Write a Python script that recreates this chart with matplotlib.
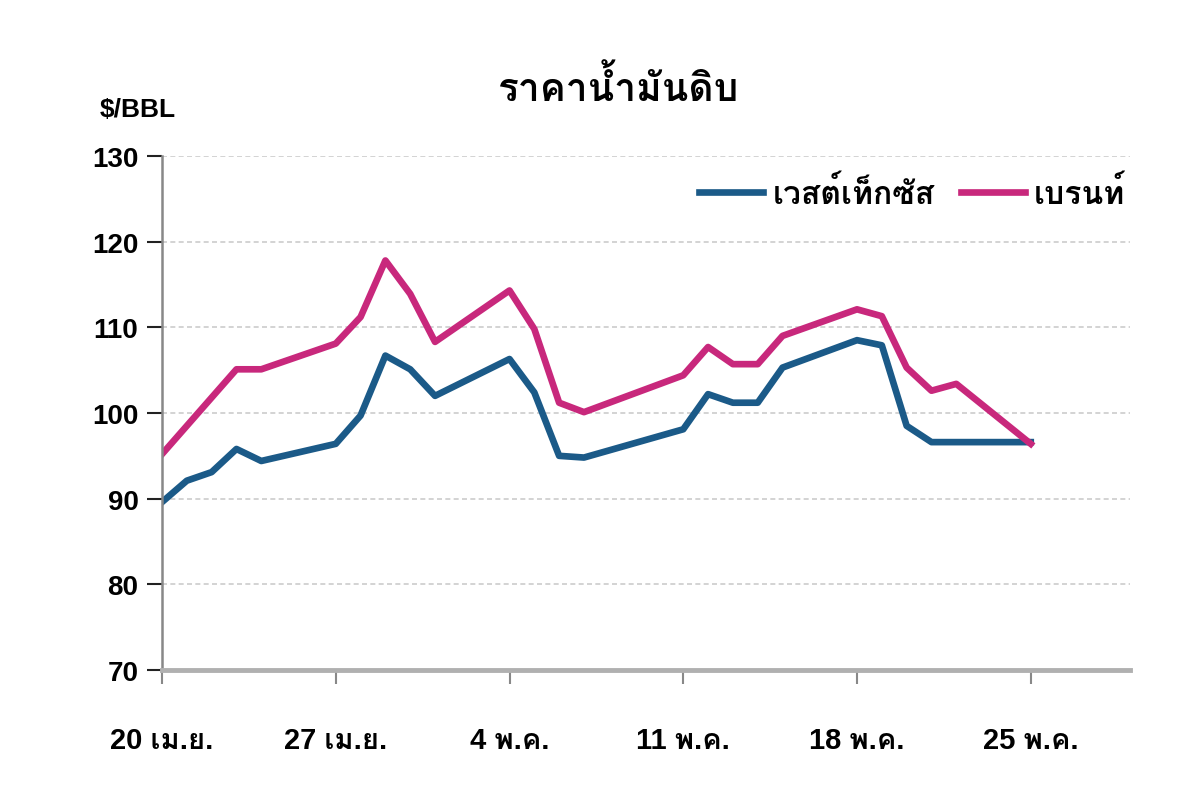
import matplotlib
matplotlib.use("Agg")
import matplotlib.pyplot as plt
from matplotlib import font_manager
from matplotlib.ft2font import FT2Font

# trading days counted from 20 Apr
days = [0, 1, 2, 3, 4, 7, 8, 9, 10, 11, 14, 15, 16, 17, 21, 22, 23, 24, 25, 28, 29, 30, 31, 32, 35]
wti = [89.6, 92.1, 93.1, 95.8, 94.4, 96.4, 99.7, 106.7, 105.1, 102.0, 106.3, 102.4, 95.0, 94.8,
       98.1, 102.2, 101.2, 101.2, 105.3, 108.5, 107.9, 98.5, 96.6, 96.6, 96.6]
brent_days = [0, 3, 4, 7, 8, 9, 10, 11, 14, 15, 16, 17, 21, 22, 23, 24, 25, 28, 29, 30, 31, 32, 35]
brent = [95.2, 105.1, 105.1, 108.1, 111.2, 117.8, 113.9, 108.3, 114.3, 109.8, 101.2, 100.1,
         104.4, 107.7, 105.7, 105.7, 109.0, 112.1, 111.3, 105.3, 102.6, 103.4, 96.4]
tick_days = [0, 7, 14, 21, 28, 35]
tick_labels = ["20 เม.ย.", "27 เม.ย.", "4 พ.ค.", "11 พ.ค.", "18 พ.ค.", "25 พ.ค."]


# find an installed font that has Thai glyphs
def thai_font():
    for f in font_manager.fontManager.ttflist:
        try:
            if 0x0E01 in FT2Font(f.fname).get_charmap():
                return f.name
        except Exception:
            pass
    return None


tf = thai_font()
fams = ["Liberation Sans"] + ([tf] if tf else []) + ["DejaVu Sans"]
plt.rcParams["font.family"] = fams

fig = plt.figure(figsize=(12, 8.12), dpi=100)
ax = fig.add_axes([0.135, 0.1736, 0.8067, 0.6331])

ax.plot(days, wti, color="#1B5A88", lw=4.8, label="เวสต์เท็กซัส", solid_joinstyle="round")
ax.plot(brent_days, brent, color="#C8287C", lw=4.8, label="เบรนท์", solid_joinstyle="round")

ax.set_xlim(0, 39)
ax.set_ylim(70, 130)
ax.set_yticks(range(70, 131, 10))
ax.set_xticks(tick_days)
ax.set_xticklabels(tick_labels)

for y in range(80, 131, 10):
    ax.axhline(y, color="#cccccc", lw=1.2, ls=(0, (3, 2)), zorder=0)

for s in ["top", "right"]:
    ax.spines[s].set_visible(False)
ax.spines["left"].set_color("#888888")
ax.spines["left"].set_linewidth(1.8)
ax.spines["bottom"].set_color("#b0b0b0")
ax.spines["bottom"].set_linewidth(3.5)

ax.tick_params(axis="x", length=10, width=1.5, color="#888888", pad=30)
ax.tick_params(axis="y", length=11, width=1.5, color="#222222", pad=6)
for lab in ax.get_xticklabels():
    lab.set_fontsize(21)
    lab.set_fontweight("bold")
for lab in ax.get_yticklabels():
    lab.set_fontsize(20)
    lab.set_fontweight("bold")

fig.text(0.515, 0.892, "ราคาน้ำมันดิบ", ha="center", va="center", fontsize=28, fontweight="bold")
fig.text(0.083, 0.864, "$/BBL", ha="left", va="center", fontsize=19, fontweight="bold")

leg = ax.legend(loc="upper right", bbox_to_anchor=(1.025, 1.015), ncol=2, frameon=False,
                prop={"size": 23, "weight": "bold"}, handlelength=2.0, columnspacing=0.8,
                handletextpad=0.3)

fig.savefig("out.png", dpi=100)
